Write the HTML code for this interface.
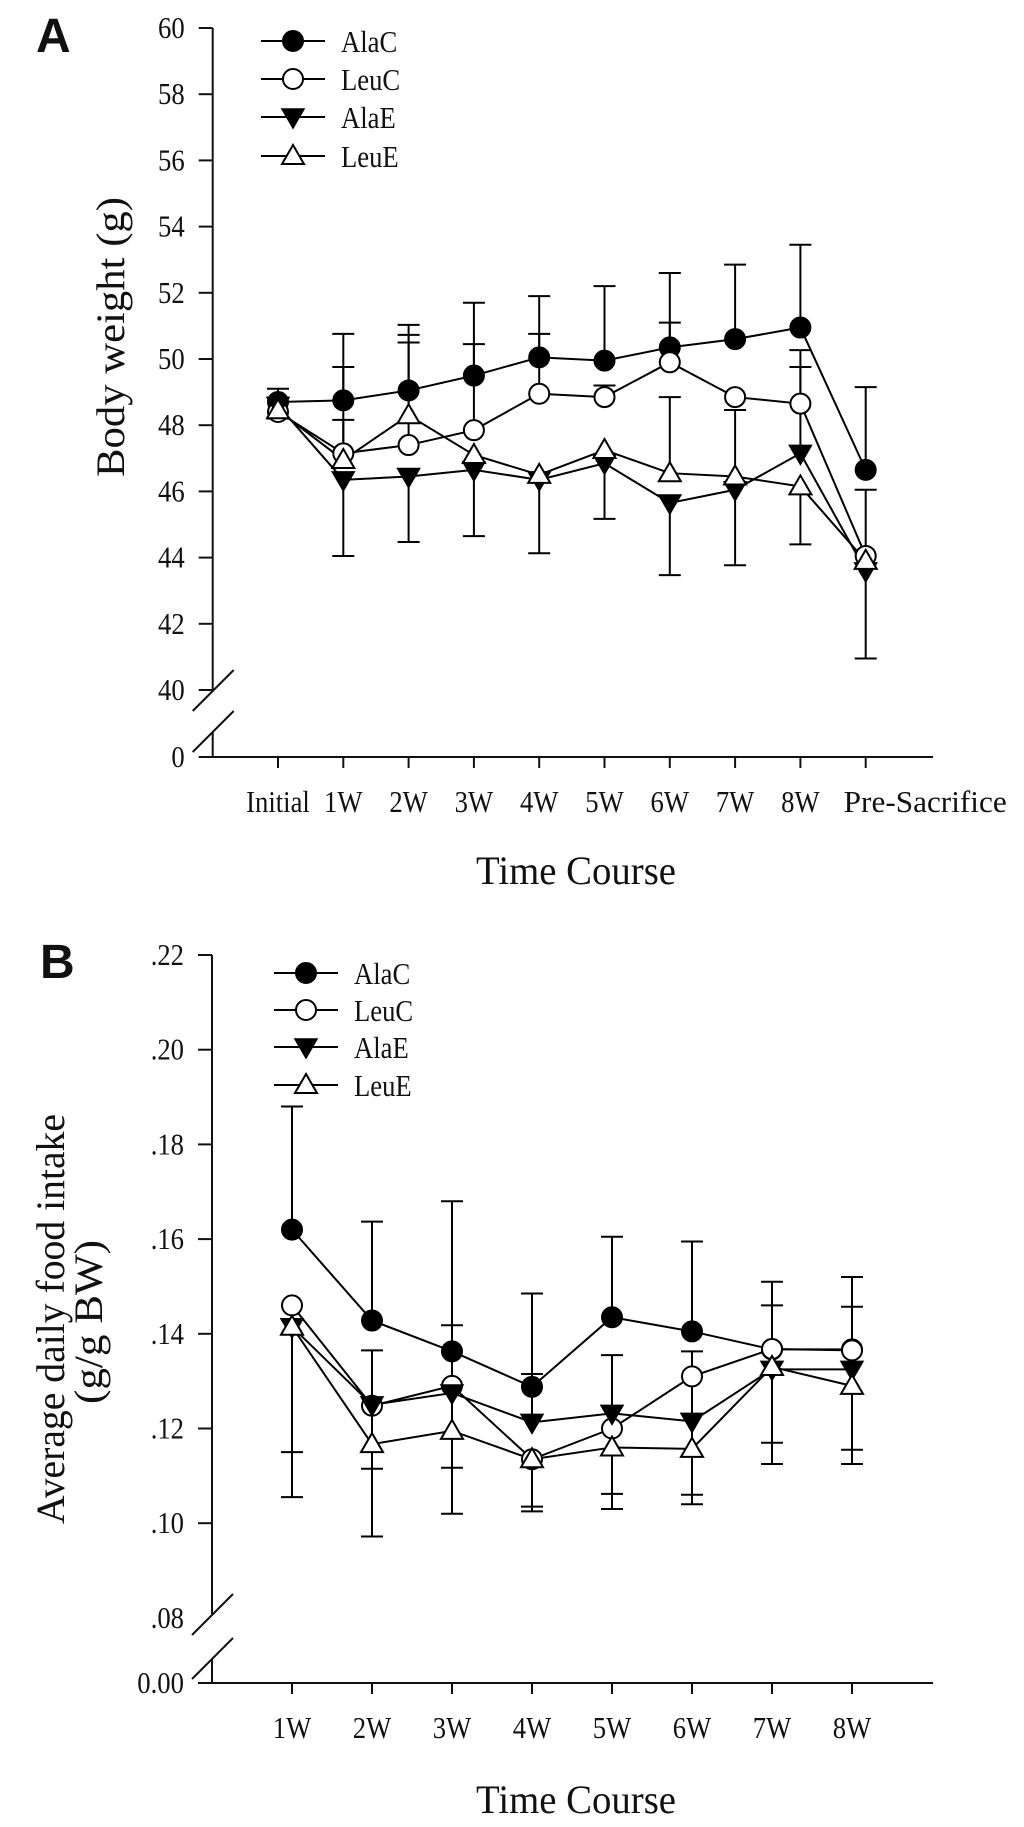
<!DOCTYPE html>
<html><head><meta charset="utf-8"><style>
html,body{margin:0;padding:0;background:#fff}
svg{display:block}
text{font-family:"Liberation Serif",serif;fill:#111}
</style></head><body>
<svg id="chart" width="1024" height="1827" viewBox="0 0 1024 1827" xmlns="http://www.w3.org/2000/svg">
<text class="pl" x="36" y="52" style="font-family:'Liberation Sans',sans-serif;font-weight:bold;font-size:48px">A</text>
<text class="pl" x="40" y="978" style="font-family:'Liberation Sans',sans-serif;font-weight:bold;font-size:48px">B</text>
<g id="pa"></g>
<g id="pb"></g>
</svg>
<script>
// Panel A data
const catsA = ["Initial","1W","2W","3W","4W","5W","6W","7W","8W","Pre-Sacrifice"];
const ticksA = [40,42,44,46,48,50,52,54,56,58,60];
const alaC_A = [48.7,48.75,49.05,49.5,50.05,49.95,50.35,50.6,50.95,46.65];
const alaC_A_up = [49.1,50.76,51.03,51.7,51.9,52.2,52.6,52.85,53.45,49.15];
const leuC_A = [48.4,47.15,47.4,47.85,48.95,48.85,49.9,48.85,48.65,44.05];
const leuC_A_up = [null,49.76,50.73,50.45,50.76,49.2,51.1,null,50.27,46.05];
const alaE_A = [48.6,46.35,46.45,46.65,46.35,46.85,45.65,46.05,47.15,43.6];
const alaE_A_low = [null,44.05,44.47,44.65,44.13,null,43.47,43.77,null,40.95];
const alaE_A_up = [null,null,null,null,null,null,null,null,49.76,null];
const leuE_A = [48.45,46.95,48.3,47.1,46.5,47.25,46.55,46.45,46.15,43.9];
const leuE_A_up = [null,48.16,50.5,null,null,null,48.85,48.46,null,null];
const leuE_A_low = [48.2,null,null,null,null,45.17,null,null,44.4,null];

// Panel B data
const catsB = ["1W","2W","3W","4W","5W","6W","7W","8W"];
const ticksB = [0.10,0.12,0.14,0.16,0.18,0.20,0.22];
const tickLabelsB = [".10",".12",".14",".16",".18",".20",".22"];
const alaC_B = [0.162,0.1428,0.1363,0.1288,0.1435,0.1405,0.1367,0.1367];
const alaC_B_up = [0.188,0.1637,0.168,0.1485,0.1605,0.1595,0.151,0.152];
const leuC_B = [0.146,0.1248,0.129,0.1135,0.120,0.131,0.1368,0.1365];
const leuC_B_low = [0.1055,0.1115,0.102,0.1025,0.103,0.104,0.1125,0.1125];
const alaE_B = [0.1415,0.125,0.1275,0.1213,0.1232,0.1215,0.1325,0.1325];
const alaE_B_up = [null,0.1365,0.1418,0.1315,0.1355,0.1363,0.146,0.1457];
const leuE_B = [0.1415,0.1167,0.1195,0.1135,0.116,0.1157,0.133,0.129];
const leuE_B_low = [0.115,0.0972,0.1117,0.1035,0.1062,0.106,0.117,0.1155];

const NS="http://www.w3.org/2000/svg";
function mk(tag,attrs,parent){const e=document.createElementNS(NS,tag);for(const k in attrs)e.setAttribute(k,attrs[k]);parent.appendChild(e);return e;}
function marker(g,kind,x,y,r){
  let e;
  if(kind==="fc"||kind==="oc"){e=mk("circle",{cx:x,cy:y,r:r,fill:kind==="fc"?"#000":"#fff",stroke:"#000","stroke-width":2},g);}
  else if(kind==="dt"){e=mk("polygon",{points:`${x-r*1.1},${y-r*0.8} ${x+r*1.1},${y-r*0.8} ${x},${y+r*1.1}`,fill:"#000",stroke:"#000","stroke-width":1.5},g);}
  else {e=mk("polygon",{points:`${x-r*1.1},${y+r*0.8} ${x+r*1.1},${y+r*0.8} ${x},${y-r*1.1}`,fill:"#fff",stroke:"#000","stroke-width":2},g);}
  return e;
}
function drawPanel(g,o){
  const fs=31;
  const ax=mk("g",{},g);
  
  
  mk("line",{x1:o.ax,y1:o.yTop,x2:o.ax,y2:o.brkTop,stroke:"#111","stroke-width":2},ax);
  mk("line",{x1:o.ax,y1:o.brkBot,x2:o.ax,y2:o.y0,stroke:"#111","stroke-width":2},ax);
  mk("line",{x1:o.ax-20,y1:o.brkTop+21,x2:o.ax+21,y2:o.brkTop-20,stroke:"#111","stroke-width":2},ax);
  mk("line",{x1:o.ax-20,y1:o.brkBot+20,x2:o.ax+21,y2:o.brkBot-21,stroke:"#111","stroke-width":2},ax);
  o.ticks.forEach((t,i)=>{
    const y=o.ys(t);
    const tl=mk("line",{x1:o.ax-14,y1:y,x2:o.ax,y2:y,stroke:"#111","stroke-width":2},ax);
    
    
    const tx=mk("text",{class:"cd",x:o.ax-28,y:y+10,"text-anchor":"end","font-size":fs},ax);
    
    
    tx.textContent=o.tickLabels[i];
  });
  o.extraLabels.forEach(l=>{
    const tx=mk("text",{class:"cd",x:o.ax-28,y:l.y+10,"text-anchor":"end","font-size":fs},ax);
    
    
    tx.textContent=l.t;
  });
  const xg=mk("g",{},g);
  
  
  mk("line",{x1:o.ax-14,y1:o.y0,x2:933,y2:o.y0,stroke:"#111","stroke-width":2},xg);
  o.cats.forEach((c,i)=>{
    const x=o.xs(i);
    mk("line",{x1:x,y1:o.y0,x2:x,y2:o.y0+11,stroke:"#111","stroke-width":2},xg);
    let tx;
    if(c==="Pre-Sacrifice"){
      tx=mk("text",{x:x-22,y:o.y0+55,"text-anchor":"start","font-size":fs,textLength:163,lengthAdjust:"spacingAndGlyphs"},xg);
    } else {
      tx=mk("text",{class:"cd",x:x,y:o.y0+55,"text-anchor":"middle","font-size":fs},xg);
    }
    
    
    tx.textContent=c;
  });
  const xt=mk("text",{x:576,y:o.xTitleY,"text-anchor":"middle","font-size":40,textLength:200,lengthAdjust:"spacingAndGlyphs"},g);
  
  
  xt.textContent="Time Course";
  o.series.forEach(s=>{
    const sg=mk("g",{},g);
    
    
    s.vals.forEach((v,i)=>{
      [s.up,s.low].forEach(arr=>{
        if(!arr||arr[i]==null)return;
        const x=o.xs(i);
        const eb=mk("path",{d:`M${x},${o.ys(v)}V${o.ys(arr[i])}M${x-11},${o.ys(arr[i])}H${x+11}`,stroke:"#000","stroke-width":2,fill:"none"},sg);
        
        
      });
    });
    const pts=s.vals.map((v,i)=>o.xs(i)+","+o.ys(v)).join(" ");
    const pl=mk("polyline",{points:pts,fill:"none",stroke:"#000","stroke-width":2},sg);
    
    
  });
  o.series.forEach(s=>{
    const sg=mk("g",{},g);
    
    
    s.vals.forEach((v,i)=>{
      const m=marker(sg,s.kind,o.xs(i),o.ys(v),10);
      
      
    });
  });
  const lg=mk("g",{},g);
  
  
  o.series.forEach((s,i)=>{
    const y=o.legY[i];
    const le=mk("g",{},lg);
    
    
    mk("line",{x1:o.legX,y1:y,x2:o.legX+64,y2:y,stroke:"#000","stroke-width":2},le);
    marker(le,s.kind,o.legX+32,y,10);
    const t=mk("text",{class:"cd",x:o.legX+80,y:y+11,"font-size":31},le);
    t.textContent=s.name;
  });
}
const pa=document.getElementById("pa");
const yA=v=>28+(60-v)*33.1;
drawPanel(pa,{ax:212.7,yTop:28,brkTop:690,brkBot:732,y0:757,ys:yA,xs:i=>278+i*65.3,
  ticks:ticksA,tickLabels:ticksA.map(String),extraLabels:[{y:757,t:"0"}],cats:catsA,xTitleY:884,
  legX:261,legY:[41,79,117,156],
  series:[
   {name:"AlaC",kind:"fc",vals:alaC_A,up:alaC_A_up},
   {name:"LeuC",kind:"oc",vals:leuC_A,up:leuC_A_up},
   {name:"AlaE",kind:"dt",vals:alaE_A,up:alaE_A_up,low:alaE_A_low},
   {name:"LeuE",kind:"ut",vals:leuE_A,up:leuE_A_up,low:leuE_A_low}]});
const yla=mk("text",{transform:"translate(124,337) rotate(-90)","text-anchor":"middle","font-size":40,textLength:280,lengthAdjust:"spacingAndGlyphs"},pa);


yla.textContent="Body weight (g)";

const pb=document.getElementById("pb");
const yB=v=>955+(0.22-v)/0.02*94.7;
drawPanel(pb,{ax:212,yTop:955,brkTop:1614,brkBot:1659,y0:1683,ys:yB,xs:i=>292+i*80,
  ticks:ticksB,tickLabels:tickLabelsB,extraLabels:[{y:1618,t:".08"},{y:1683,t:"0.00"}],cats:catsB,xTitleY:1813,
  legX:274,legY:[973,1010,1047,1085],
  series:[
   {name:"AlaC",kind:"fc",vals:alaC_B,up:alaC_B_up},
   {name:"LeuC",kind:"oc",vals:leuC_B,low:leuC_B_low},
   {name:"AlaE",kind:"dt",vals:alaE_B,up:alaE_B_up},
   {name:"LeuE",kind:"ut",vals:leuE_B,low:leuE_B_low}]});
const ylb=mk("text",{transform:"translate(64,1319) rotate(-90)","text-anchor":"middle","font-size":40,textLength:410,lengthAdjust:"spacingAndGlyphs"},pb);


ylb.textContent="Average daily food intake";
const ylb2=mk("text",{transform:"translate(102,1322) rotate(-90)","text-anchor":"middle","font-size":40,textLength:164,lengthAdjust:"spacingAndGlyphs"},pb);


ylb2.textContent="(g/g BW)";

// condense text horizontally like the reference typeface
document.querySelectorAll("#chart text.cd").forEach(t=>{
  const w=t.getComputedTextLength();
  t.setAttribute("textLength",(w*0.86).toFixed(1));
  t.setAttribute("lengthAdjust","spacingAndGlyphs");
});
</script>
</body></html>
